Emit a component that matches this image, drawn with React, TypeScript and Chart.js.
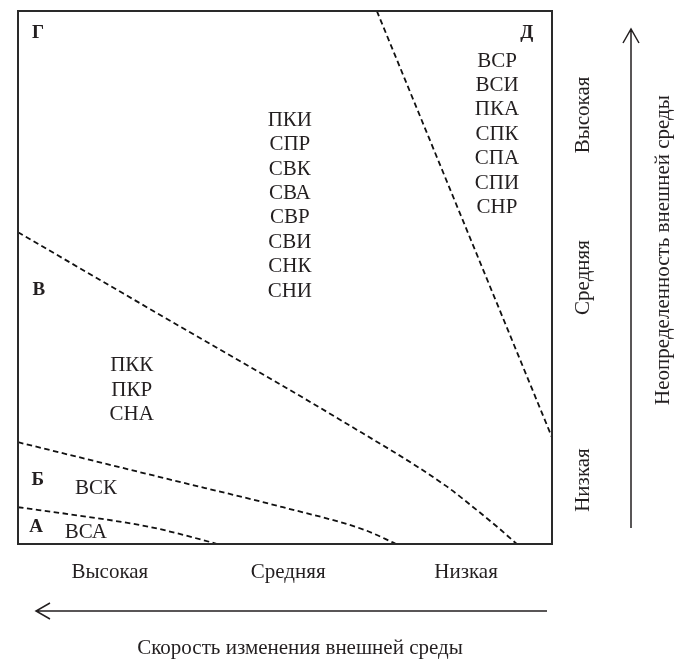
import React, { useEffect, useRef } from 'react';
import { Chart, registerables } from 'chart.js';

Chart.register(...registerables);

// ---- data ----
const speedLabels = ['Высокая', 'Средняя', 'Низкая'];
const speedTicks = [0.172, 0.506, 0.839];
const uncertaintyLabels = ['Высокая', 'Средняя', 'Низкая'];
const uncertaintyTicks = [0.805, 0.5, 0.12];
const xTitle = 'Скорость изменения внешней среды';
const yTitle = 'Неопределенность внешней среды';

// boundaries (x: 0 left .. 1 right, y: 0 bottom .. 1 top)
const boundaryAx = [0, 0.116, 0.247, 0.346, 0.373];
const boundaryAy = [0.069, 0.053, 0.032, 0.0075, 0];
const boundaryBx = [0, 0.272, 0.496, 0.65, 0.708];
const boundaryBy = [0.191, 0.124, 0.069, 0.026, 0];
const boundaryVx = [0, 0.3, 0.6, 0.8, 0.86, 0.9, 0.934];
const boundaryVy = [0.585, 0.41, 0.235, 0.11, 0.063, 0.03, 0];
const boundaryDx = [0.672, 1];
const boundaryDy = [1, 0.2];

// zone letters
const zoneLetters = ['А', 'Б', 'В', 'Г', 'Д'];
const zoneLetterX = [0.034, 0.037, 0.039, 0.0375, 0.953];
const zoneLetterY = [0.032, 0.12, 0.477, 0.959, 0.959];

// strategy groups
const groupCenter = ['ПКИ', 'СПР', 'СВК', 'СВА', 'СВР', 'СВИ', 'СНК', 'СНИ'];
const groupRight = ['ВСР', 'ВСИ', 'ПКА', 'СПК', 'СПА', 'СПИ', 'СНР'];
const groupLeft = ['ПКК', 'ПКР', 'СНА'];
const groupB = ['ВСК'];
const groupA = ['ВСА'];
const groups = [groupCenter, groupRight, groupLeft, groupB, groupA];
const groupX = [0.509, 0.897, 0.213, 0.146, 0.127];
const groupTopY = [0.795, 0.906, 0.334, 0.105, 0.021];

const INK = '#231f20';
const SERIF = '"Liberation Serif", "Times New Roman", serif';

const mk = (xs: number[], ys: number[]) => xs.map((x, i) => ({ x, y: ys[i] }));

const overlay = {
  id: 'overlay',
  afterDraw(chart: any) {
    const { ctx, chartArea: ca, scales } = chart;
    const xs = scales.x;
    const ys = scales.y;
    ctx.save();
    // frame
    ctx.strokeStyle = '#2a2a2a';
    ctx.lineWidth = 2;
    ctx.strokeRect(ca.left, ca.top, ca.right - ca.left, ca.bottom - ca.top);

    ctx.fillStyle = INK;
    ctx.textBaseline = 'middle';
    ctx.textAlign = 'center';

    // zone letters
    ctx.font = 'bold 19px ' + SERIF;
    zoneLetters.forEach((l, i) => {
      ctx.fillText(l, xs.getPixelForValue(zoneLetterX[i]), ys.getPixelForValue(zoneLetterY[i]));
    });

    // groups
    ctx.font = '21px ' + SERIF;
    const lineH = 24.4;
    groups.forEach((g, gi) => {
      const px = xs.getPixelForValue(groupX[gi]);
      const py = ys.getPixelForValue(groupTopY[gi]);
      g.forEach((t, k) => ctx.fillText(t, px, py + k * lineH));
    });

    // bottom axis labels
    speedLabels.forEach((t, i) => {
      ctx.fillText(t, xs.getPixelForValue(speedTicks[i]), ca.bottom + 28);
    });
    // bottom arrow (pointing left)
    ctx.strokeStyle = INK;
    ctx.lineWidth = 1.5;
    const ay = ca.bottom + 67;
    const ax0 = ca.left + 18;
    const ax1 = ca.right - 5;
    ctx.beginPath();
    ctx.moveTo(ax1, ay);
    ctx.lineTo(ax0, ay);
    ctx.moveTo(ax0 + 14, ay - 8);
    ctx.lineTo(ax0, ay);
    ctx.lineTo(ax0 + 14, ay + 8);
    ctx.stroke();
    ctx.fillText(xTitle, 300, ca.bottom + 104);

    // right axis labels (rotated)
    const lx = ca.right + 31;
    uncertaintyLabels.forEach((t, i) => {
      ctx.save();
      ctx.translate(lx, ys.getPixelForValue(uncertaintyTicks[i]));
      ctx.rotate(-Math.PI / 2);
      ctx.fillText(t, 0, 0);
      ctx.restore();
    });
    // right arrow (pointing up)
    const rx = ca.right + 79;
    const ry0 = ca.top + 18;
    const ry1 = ca.bottom - 16;
    ctx.beginPath();
    ctx.moveTo(rx, ry1);
    ctx.lineTo(rx, ry0);
    ctx.moveTo(rx - 8, ry0 + 14);
    ctx.lineTo(rx, ry0);
    ctx.lineTo(rx + 8, ry0 + 14);
    ctx.stroke();
    ctx.save();
    ctx.translate(ca.right + 111, 250);
    ctx.rotate(-Math.PI / 2);
    ctx.fillText(yTitle, 0, 0);
    ctx.restore();

    ctx.restore();
  },
};

export default function App() {
  const ref = useRef<HTMLCanvasElement | null>(null);
  useEffect(() => {
    if (!ref.current) return;
    const dash = {
      showLine: true,
      pointRadius: 0,
      borderColor: '#111111',
      borderWidth: 1.8,
      borderDash: [5.5, 3.5],
      fill: false,
      cubicInterpolationMode: 'monotone' as const,
    };
    const chart = new Chart(ref.current, {
      type: 'scatter',
      data: {
        datasets: [
          { ...dash, label: 'А', data: mk(boundaryAx, boundaryAy) },
          { ...dash, label: 'Б', data: mk(boundaryBx, boundaryBy) },
          { ...dash, label: 'В', data: mk(boundaryVx, boundaryVy) },
          { ...dash, label: 'Д', data: mk(boundaryDx, boundaryDy), cubicInterpolationMode: 'default' as const, tension: 0 },
        ],
      },
      options: {
        responsive: false,
        animation: false,
        devicePixelRatio: 1,
        layout: { padding: { left: 18, top: 11, right: 123, bottom: 116 } },
        plugins: { legend: { display: false }, tooltip: { enabled: false } },
        scales: {
          x: { type: 'linear', min: 0, max: 1, display: false },
          y: { type: 'linear', min: 0, max: 1, display: false },
        },
      },
      plugins: [overlay],
    });
    return () => chart.destroy();
  }, []);
  return (
    <div style={{ position: 'absolute', left: 0, top: 0, width: 675, height: 660, background: '#fff' }}>
      <canvas ref={ref} width={675} height={660} />
    </div>
  );
}
